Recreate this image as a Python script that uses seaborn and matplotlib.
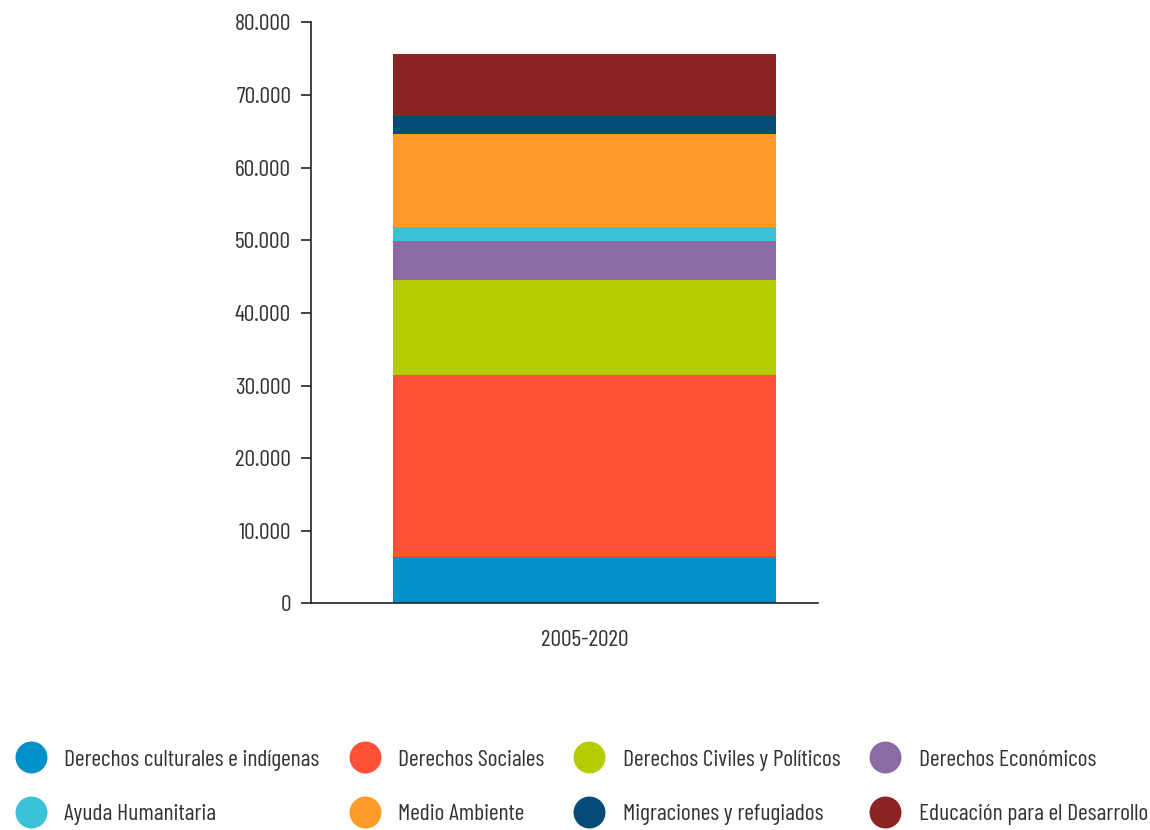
import matplotlib.pyplot as plt
import matplotlib.ticker as mticker
from matplotlib.lines import Line2D
import seaborn as sns
import pandas as pd

periodo = ["2005-2020"]
categorias = ["Derechos culturales e indígenas", "Derechos Sociales",
              "Derechos Civiles y Políticos", "Derechos Económicos",
              "Ayuda Humanitaria", "Medio Ambiente",
              "Migraciones y refugiados", "Educación para el Desarrollo"]
valores = [6420, 25050, 13030, 5400, 1890, 12790, 2480, 8570]
colores = ["#0091C8", "#FF5038", "#B5CC05", "#8C6BA5",
           "#3BC2D6", "#FF9B26", "#044C75", "#8B2423"]

sns.set_style("white")
plt.rcParams["font.family"] = ["Barlow Condensed", "DejaVu Sans"]
plt.rcParams["text.color"] = "#333333"

df = pd.DataFrame({"periodo": periodo * len(categorias),
                   "categoria": categorias, "valor": valores})

fig = plt.figure(figsize=(11.5, 8.3), dpi=100)
ax = fig.add_axes([0.27, 0.273, 0.441, 0.7])

bottom = 0
for cat, col in zip(categorias, colores):
    row = df[df["categoria"] == cat]
    sns.barplot(data=row, x="periodo", y="valor", color=col, width=0.8,
                bottom=bottom, ax=ax, saturation=1, edgecolor="none", linewidth=0)
    bottom += row["valor"].iloc[0]

ax.set_ylim(0, 80000)
ax.set_xlim(-0.573, 0.486)
ax.yaxis.set_major_locator(mticker.MultipleLocator(10000))
ax.yaxis.set_major_formatter(mticker.FuncFormatter(lambda v, p: f"{int(v):,}".replace(",", ".")))
ax.set_xlabel("")
ax.set_ylabel("")
sns.despine(ax=ax, top=True, right=True)
for s in ["left", "bottom"]:
    ax.spines[s].set_color("#222222")
    ax.spines[s].set_linewidth(1.2)
ax.tick_params(axis="y", left=True, length=7, width=1.2, color="#222222",
               labelsize=17, labelcolor="#333333", pad=7)
ax.tick_params(axis="x", bottom=False, labelsize=17, labelcolor="#333333", pad=16)

# legend, filled column by column -> reorder for row layout
orden = [0, 4, 1, 5, 2, 6, 3, 7]
handles = [Line2D([0], [0], marker="o", linestyle="none", markersize=23,
                  markerfacecolor=colores[i], markeredgecolor="none") for i in orden]
labels = [categorias[i] for i in orden]
fig.legend(handles, labels, loc="lower left", bbox_to_anchor=(-0.0078, -0.02), ncol=4,
           frameon=False, fontsize=17, handletextpad=0.6, columnspacing=1.12,
           labelspacing=1.41, handlelength=1.6, labelcolor="#333333")

fig.savefig("out.png", dpi=100)
